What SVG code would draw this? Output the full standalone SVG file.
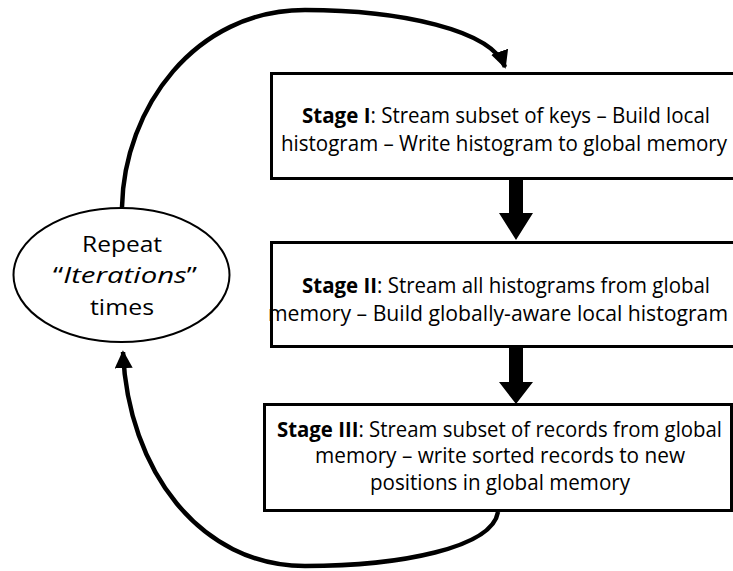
<svg xmlns="http://www.w3.org/2000/svg" width="733" height="571" viewBox="0 0 733 571">
<style>
.box{fill:#fff;stroke:#000;stroke-width:3}
.t{font-family:"Open Sans","Noto Sans",sans-serif;font-size:21px;fill:#000;text-anchor:middle}
.e{font-family:"Open Sans","Noto Sans",sans-serif;font-size:22px;fill:#000;text-anchor:middle}
.b{font-weight:bold}
.conn{fill:none;stroke:#000;stroke-width:4.5}
.blk{fill:#000}
</style>
<defs>
<marker id="ah" viewBox="0 0 10 10" refX="9" refY="5" markerWidth="4" markerHeight="4" orient="auto" markerUnits="strokeWidth">
<path d="M0,0 L10,5 L0,10 z" fill="#000"/>
</marker>
</defs>
<rect width="733" height="571" fill="#fff"/>
<g id="connectors">
<path class="conn" d="M122,207 C124,108 195,10 305,10 C400,10 492,30 505,67" marker-end="url(#ah)"/>
<path class="conn" d="M498,512 C492,548 400,566 305,566 C200,566 128,470 123,352" marker-end="url(#ah)"/>
<path class="blk" d="M509,180 L523,180 L523,213 L533,213 L516,240 L499,213 L509,213 z"/>
<path class="blk" d="M509,347 L523,347 L523,382 L533,382 L516,404 L499,382 L509,382 z"/>
</g>
<g id="repeat">
<ellipse cx="121.5" cy="275" rx="108" ry="67" fill="#fff" stroke="#000" stroke-width="2"/>
<text class="e" x="122" y="252" textLength="80" lengthAdjust="spacingAndGlyphs">Repeat</text>
<text class="e" x="125" y="283" textLength="144" lengthAdjust="spacingAndGlyphs">“<tspan font-style="italic">Iterations</tspan>”</text>
<text class="e" x="122" y="315" textLength="64" lengthAdjust="spacingAndGlyphs">times</text>
</g>
<g id="stage1">
<rect class="box" x="271.5" y="73.5" width="480" height="105"/>
<text class="t" x="506" y="123" textLength="408" lengthAdjust="spacingAndGlyphs"><tspan class="b">Stage I</tspan>: Stream subset of keys – Build local</text>
<text class="t" x="504" y="151" textLength="446" lengthAdjust="spacingAndGlyphs">histogram – Write histogram to global memory</text>
</g>
<g id="stage2">
<rect class="box" x="271.5" y="242.5" width="480" height="104"/>
<text class="t" x="506" y="293" textLength="408" lengthAdjust="spacingAndGlyphs"><tspan class="b">Stage II</tspan>: Stream all histograms from global</text>
<text class="t" x="498" y="321" textLength="460" lengthAdjust="spacingAndGlyphs">memory – Build globally-aware local histogram</text>
</g>
<g id="stage3">
<rect class="box" x="264.5" y="404.5" width="467" height="106"/>
<text class="t" x="499.5" y="437" textLength="445" lengthAdjust="spacingAndGlyphs"><tspan class="b">Stage III</tspan>: Stream subset of records from global</text>
<text class="t" x="500" y="463" textLength="370" lengthAdjust="spacingAndGlyphs">memory – write sorted records to new</text>
<text class="t" x="500" y="490" textLength="260" lengthAdjust="spacingAndGlyphs">positions in global memory</text>
</g>
</svg>
